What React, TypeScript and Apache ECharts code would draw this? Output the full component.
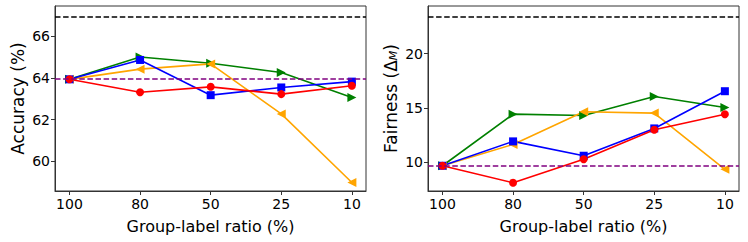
import React, { useEffect, useRef } from "react";
import * as echarts from "echarts";

const ratios = ["100", "80", "50", "25", "10"];
const xIdx = [0, 1, 2, 3, 4];

const accGreen = [63.93, 65.0, 64.7, 64.26, 63.06];
const accOrange = [63.93, 64.42, 64.67, 62.27, 58.98];
const accBlue = [63.93, 64.86, 63.17, 63.54, 63.82];
const accRed = [63.93, 63.31, 63.57, 63.22, 63.62];
const accTop = 66.95;
const accBase = 63.95;

const fairGreen = [9.69, 14.43, 14.31, 16.06, 15.05];
const fairOrange = [9.69, 11.65, 14.65, 14.53, 9.36];
const fairBlue = [9.69, 11.93, 10.61, 13.12, 16.54];
const fairRed = [9.69, 8.13, 10.28, 13.0, 14.43];
const fairTop = 23.39;
const fairBase = 9.69;

const accTicks = [60, 62, 64, 66];
const fairTicks = [10, 15, 20];

const FONT = "DejaVu Sans";

export default function App() {
  const ref = useRef<HTMLDivElement>(null);
  useEffect(() => {
    if (!ref.current) return;
    const chart = echarts.init(ref.current, null, { renderer: "svg" });
    const pair = (ys: number[]) => ys.map((y, i) => [xIdx[i], y]);

    const mk = (
      gi: number,
      data: number[],
      color: string,
      symbol: string,
      rot: number,
      size: number
    ) => ({
      type: "line",
      xAxisIndex: gi,
      yAxisIndex: gi,
      data: pair(data),
      symbol,
      symbolSize: size,
      symbolRotate: rot,
      lineStyle: { color, width: 1.6 },
      itemStyle: { color },
      z: 3,
    });

    const refLines = (gi: number, top: number, base: number) => ({
      type: "line",
      xAxisIndex: gi,
      yAxisIndex: gi,
      data: [],
      silent: true,
      markLine: {
        silent: true,
        symbol: "none",
        label: { show: false },
        animation: false,
        data: [
          { yAxis: top, lineStyle: { color: "#000", type: [5.5, 2.6], width: 1.5 } },
          { yAxis: base, lineStyle: { color: "#800080", type: [5.5, 2.6], width: 1.5 } },
        ],
      },
    });

    const xAxis = (gi: number) => ({
      type: "value",
      gridIndex: gi,
      min: -0.205,
      max: 4.2,
      splitLine: { show: false },
      axisLine: { show: true, onZero: false, lineStyle: { color: "#333", width: 1 } },
      axisTick: {
        show: true,
        customValues: xIdx,
        length: 4,
        lineStyle: { color: "#333" },
      },
      axisLabel: {
        customValues: xIdx,
        formatter: (v: number) => ratios[Math.round(v)] ?? "",
        color: "#000",
        fontFamily: FONT,
        fontSize: 14,
        margin: 6,
      },
      name: "Group-label ratio (%)",
      nameLocation: "middle",
      nameGap: 27,
      nameTextStyle: { fontFamily: FONT, fontSize: 16, color: "#000" },
    });

    const yAxis = (gi: number, min: number, max: number, ticks: number[], name: any, rich?: any) => ({
      type: "value",
      gridIndex: gi,
      min,
      max,
      splitLine: { show: false },
      axisLine: { show: true, onZero: false, lineStyle: { color: "#333", width: 1 } },
      axisTick: {
        show: true,
        customValues: ticks,
        length: 4,
        lineStyle: { color: "#333" },
      },
      axisLabel: {
        customValues: ticks,
        color: "#000",
        fontFamily: FONT,
        fontSize: 14,
        margin: 5,
      },
      name,
      nameLocation: "middle",
      nameGap: 29,
      nameTextStyle: { fontFamily: FONT, fontSize: 17, color: "#000", rich },
    });

    chart.setOption({
      animation: false,
      backgroundColor: "#fff",
      grid: [
        { left: 55, top: 6, width: 311, height: 185, show: true, borderColor: "#333", borderWidth: 1 },
        { left: 428, top: 6, width: 311, height: 185, show: true, borderColor: "#333", borderWidth: 1 },
      ],
      xAxis: [xAxis(0), xAxis(1)],
      yAxis: [
        yAxis(0, 58.57, 67.45, accTicks, "Accuracy (%)"),
        yAxis(1, 7.37, 24.37, fairTicks, "Fairness (Δ{sub|M})", {
          sub: { fontFamily: FONT, fontSize: 11, fontStyle: "italic", color: "#000", verticalAlign: "bottom", padding: [6, 0, 0, 0] },
        }),
      ],
      series: [
        refLines(0, accTop, accBase),
        mk(0, accGreen, "#008000", "triangle", -90, 9),
        mk(0, accOrange, "#FFA500", "triangle", 90, 9),
        mk(0, accBlue, "#0000FF", "rect", 0, 8),
        mk(0, accRed, "#FF0000", "circle", 0, 8),
        refLines(1, fairTop, fairBase),
        mk(1, fairGreen, "#008000", "triangle", -90, 9),
        mk(1, fairOrange, "#FFA500", "triangle", 90, 9),
        mk(1, fairBlue, "#0000FF", "rect", 0, 8),
        mk(1, fairRed, "#FF0000", "circle", 0, 8),
      ],
    });
    return () => chart.dispose();
  }, []);
  return (
    <div
      ref={ref}
      style={{ position: "fixed", left: 0, top: 0, width: 748, height: 242, background: "#fff" }}
    />
  );
}
